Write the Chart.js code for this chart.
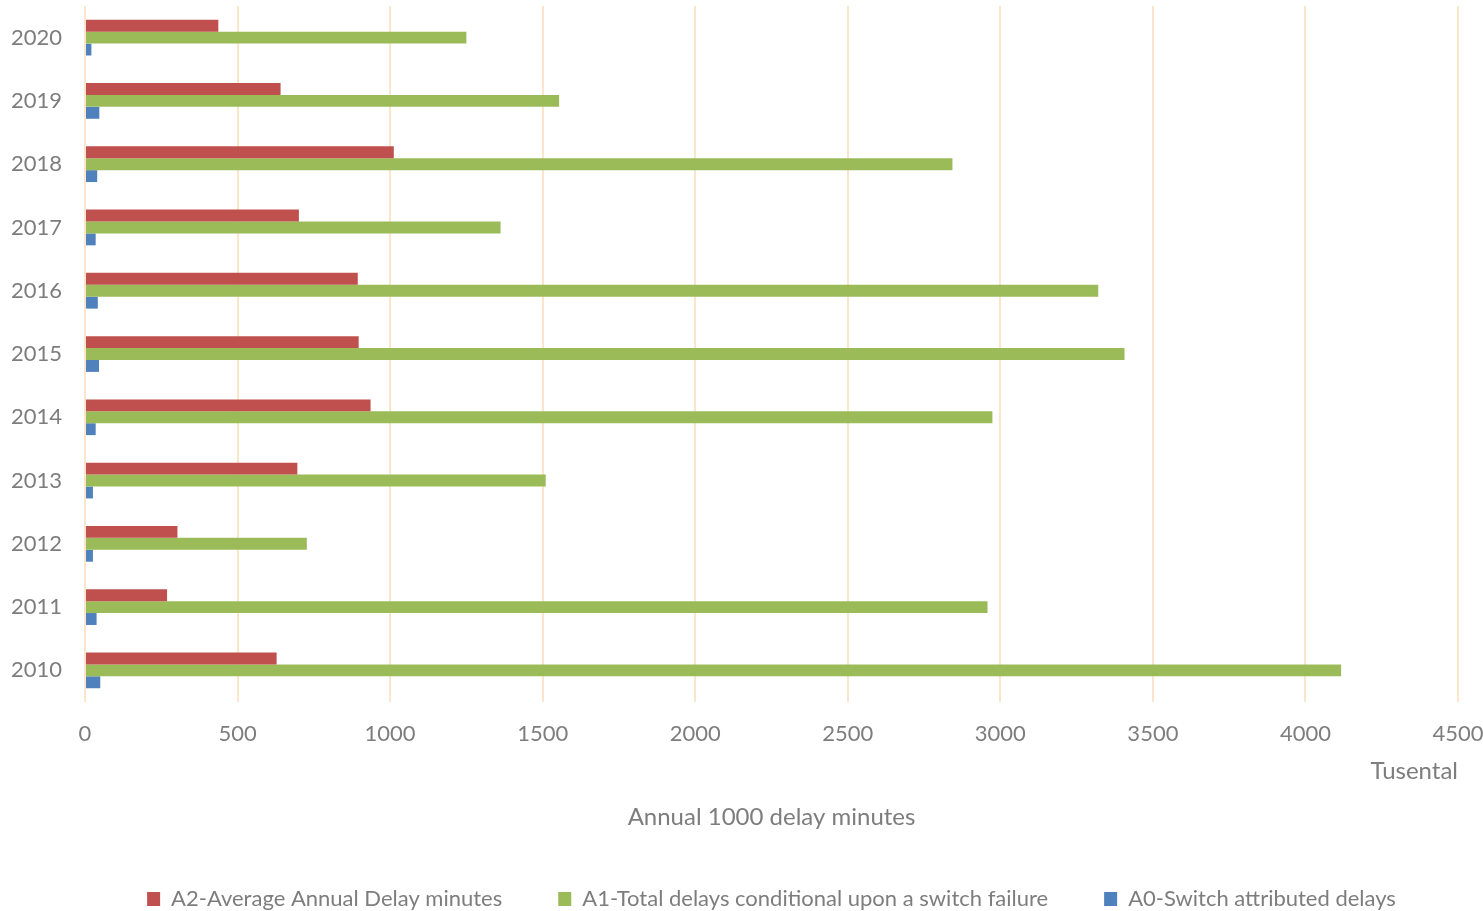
<!DOCTYPE html>
<html>
<head>
<meta charset="utf-8">
<title>Annual delay minutes</title>
<script src="https://cdn.jsdelivr.net/npm/chart.js@4/dist/chart.umd.min.js"></script>
<style>
  html, body { margin: 0; padding: 0; background: #fff; }
  #wrap { width: 1483px; height: 911px; }
</style>
</head>
<body>
<div id="wrap"><canvas id="delays" width="1483" height="911"></canvas></div>
<script>
// years, top to bottom as shown on the category axis
const years = ['2020', '2019', '2018', '2017', '2016', '2015', '2014', '2013', '2012', '2011', '2010'];

// thousands of delay minutes per year
const avgAnnualDelay = [437, 641, 1012, 701, 894, 897, 936, 696, 303, 269, 628];
const totalDelaysSwitchFailure = [1250, 1554, 2843, 1362, 3321, 3407, 2974, 1510, 727, 2958, 4117];
const switchAttributedDelays = [21, 47, 40, 35, 42, 46, 35, 26, 26, 38, 50];

const xMin = 0;
const xMax = 4500;
const xStep = 500;

const textGray = '#7d7d7d';
const gridBeige = '#fbe6cc';

Chart.defaults.font.family = 'Lato, "Open Sans", sans-serif';
Chart.defaults.color = textGray;

const ctx = document.getElementById('delays').getContext('2d');

new Chart(ctx, {
    type: 'bar',
    data: {
        labels: years,
        datasets: [
            {
                label: 'A2-Average Annual Delay minutes',
                data: avgAnnualDelay,
                backgroundColor: '#c0504d'
            },
            {
                label: 'A1-Total delays conditional upon a switch failure',
                data: totalDelaysSwitchFailure,
                backgroundColor: '#9bbb59'
            },
            {
                label: 'A0-Switch attributed delays',
                data: switchAttributedDelays,
                backgroundColor: '#4f81bd'
            }
        ]
    },
    options: {
        indexAxis: 'y',
        responsive: false,
        animation: false,
        categoryPercentage: 0.565,
        barPercentage: 1,
        layout: {
            padding: { top: 6, right: 25, bottom: 0, left: 0 }
        },
        scales: {
            x: {
                min: xMin,
                max: xMax,
                ticks: {
                    stepSize: xStep,
                    padding: 19,
                    font: { size: 22 },
                    color: textGray,
                    // plain numbers, no thousands separator
                    callback: function(value) { return String(value); }
                },
                grid: {
                    color: gridBeige,
                    lineWidth: 2,
                    drawTicks: false
                },
                border: { display: false },
                title: {
                    display: true,
                    text: 'Tusental',
                    align: 'end',
                    font: { size: 24 },
                    color: textGray,
                    padding: { top: 0, bottom: 4 }
                },
                afterFit: function(scale) {
                    scale.height = 88;
                    // last tick label only needs the right layout padding
                    scale.paddingRight = 0;
                }
            },
            y: {
                ticks: {
                    padding: 23,
                    font: { size: 22 },
                    color: textGray
                },
                grid: { display: false, drawTicks: false },
                border: { display: false },
                afterFit: function(scale) {
                    scale.width = 85;
                    scale.paddingTop = 0;
                    scale.paddingBottom = 0;
                }
            }
        },
        plugins: {
            title: {
                display: true,
                text: 'Annual 1000 delay minutes',
                position: 'bottom',
                fullSize: false,
                weight: 500,
                color: textGray,
                font: { size: 24, weight: 'normal' },
                padding: { top: 12.6, bottom: 0.6 }
            },
            legend: {
                position: 'bottom',
                fullSize: false,
                maxHeight: 79,
                labels: {
                    boxWidth: 13,
                    boxHeight: 14,
                    padding: 56,
                    color: textGray,
                    font: { size: 22 }
                }
            },
            tooltip: { enabled: false }
        }
    }
});
</script>
</body>
</html>
